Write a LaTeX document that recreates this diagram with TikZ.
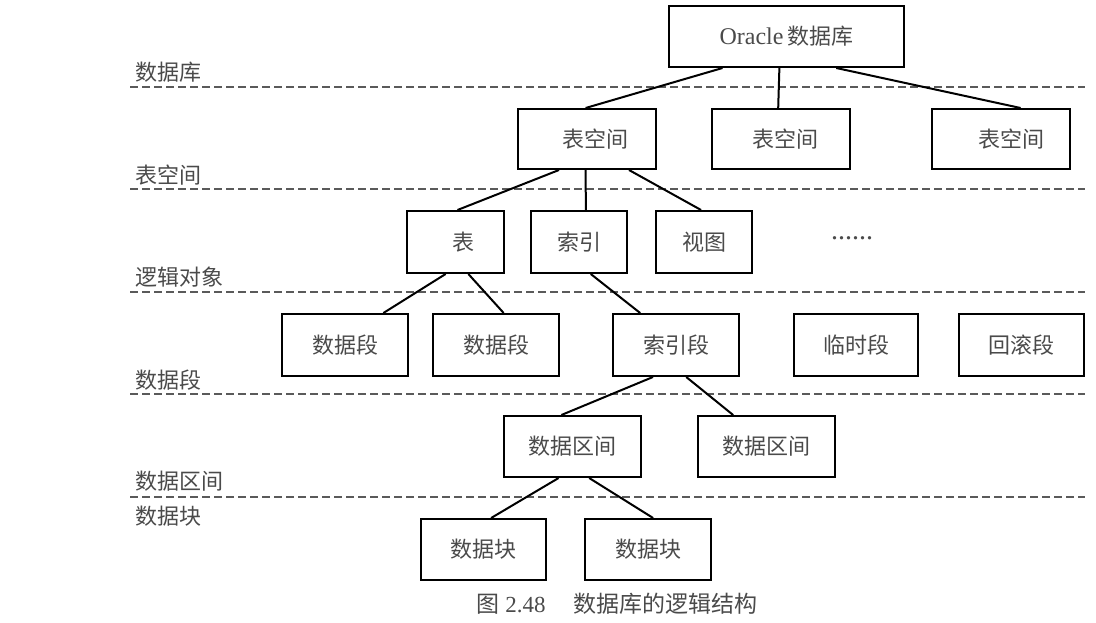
\documentclass[tikz,border=0pt]{standalone}
\usepackage{fontspec}
\setmainfont{Liberation Serif}
\newfontfamily\cjk{Noto Sans CJK SC}
\usetikzlibrary{calc}
\definecolor{txt}{HTML}{4A4A4A}
\definecolor{dashc}{HTML}{5A5A5A}
\tikzset{
  box/.style={draw=black, line width=2pt, anchor=north west, inner sep=0pt,
    font=\fontsize{22}{26}\selectfont\cjk, text=txt},
  conn/.style={line width=2pt, black},
  layer/.style={dashc, line width=2.4pt, dash pattern=on 8pt off 4pt},
  lbl/.style={anchor=west, inner sep=0pt, font=\fontsize{22}{26}\selectfont\cjk, text=txt},
}
\begin{document}
\begin{tikzpicture}[x=1pt,y=-1pt]
\useasboundingbox (0,0) rectangle (1096,622);
% layer separators
\coordinate (l1a) at (130,87);  \coordinate (l1b) at (1085,87);
\coordinate (l2a) at (130,189); \coordinate (l2b) at (1085,189);
\coordinate (l3a) at (130,292); \coordinate (l3b) at (1085,292);
\coordinate (l4a) at (130,394); \coordinate (l4b) at (1085,394);
\coordinate (l5a) at (130,497); \coordinate (l5b) at (1085,497);
\draw[layer] (l1a) -- (l1b);
\draw[layer] (l2a) -- (l2b);
\draw[layer] (l3a) -- (l3b);
\draw[layer] (l4a) -- (l4b);
\draw[layer] (l5a) -- (l5b);
% layer labels
\node[lbl] (n1) at (135,72) {数据库};
\node[lbl] (n2) at (135,175) {表空间};
\node[lbl] (n3) at (135,277) {逻辑对象};
\node[lbl] (n4) at (135,380) {数据段};
\node[lbl] (n5) at (135,481) {数据区间};
\node[lbl] (n6) at (135,516) {数据块};
% boxes
\node[box, minimum width=235pt, minimum height=61pt] (db) at (668,5) {\fontsize{24}{26}\selectfont\rmfamily Oracle\,\fontsize{22}{26}\selectfont\cjk 数据库};
\node[box, minimum width=138pt, minimum height=60pt] (ts1) at (517,108) {\hspace*{16pt}表空间};
\node[box, minimum width=138pt, minimum height=60pt] (ts2) at (711,108) {\hspace*{8pt}表空间};
\node[box, minimum width=138pt, minimum height=60pt] (ts3) at (931,108) {\hspace*{20pt}表空间};
\node[box, minimum width=97pt, minimum height=62pt] (tb) at (406,210) {\hspace*{16pt}表};
\node[box, minimum width=96pt, minimum height=62pt] (ix) at (530,210) {索引};
\node[box, minimum width=96pt, minimum height=62pt] (vw) at (655,210) {视图};
\node[anchor=center, inner sep=0pt, font=\fontsize{28}{30}\selectfont, text=txt] (dots) at (852,238) {......};
\node[box, minimum width=126pt, minimum height=62pt] (sg1) at (281,313) {数据段};
\node[box, minimum width=126pt, minimum height=62pt] (sg2) at (432,313) {数据段};
\node[box, minimum width=126pt, minimum height=62pt] (isg) at (612,313) {索引段};
\node[box, minimum width=124pt, minimum height=62pt] (tsg) at (793,313) {临时段};
\node[box, minimum width=125pt, minimum height=62pt] (rsg) at (958,313) {回滚段};
\node[box, minimum width=137pt, minimum height=61pt] (ex1) at (503,415) {数据区间};
\node[box, minimum width=137pt, minimum height=61pt] (ex2) at (697,415) {数据区间};
\node[box, minimum width=125pt, minimum height=61pt] (bk1) at (420,518) {数据块};
\node[box, minimum width=126pt, minimum height=61pt] (bk2) at (584,518) {数据块};
\node[anchor=center, inner sep=0pt, text=txt, font=\fontsize{23}{25}\selectfont] (cap) at (617,604) {{\cjk 图}~2.48\hspace{28pt}{\cjk 数据库的逻辑结构}};
% connectors
\draw[conn] ($(db.south west)!0.23!(db.south east)$) -- ($(ts1.north west)!0.49!(ts1.north east)$);
\draw[conn] ($(db.south west)!0.47!(db.south east)$) -- ($(ts2.north west)!0.48!(ts2.north east)$);
\draw[conn] ($(db.south west)!0.71!(db.south east)$) -- ($(ts3.north west)!0.64!(ts3.north east)$);
\draw[conn] ($(ts1.south west)!0.30!(ts1.south east)$) -- ($(tb.north west)!0.52!(tb.north east)$);
\draw[conn] ($(ts1.south west)!0.49!(ts1.south east)$) -- ($(ix.north west)!0.57!(ix.north east)$);
\draw[conn] ($(ts1.south west)!0.80!(ts1.south east)$) -- ($(vw.north west)!0.47!(vw.north east)$);
\draw[conn] ($(tb.south west)!0.40!(tb.south east)$) -- ($(sg1.north west)!0.80!(sg1.north east)$);
\draw[conn] ($(tb.south west)!0.63!(tb.south east)$) -- ($(sg2.north west)!0.56!(sg2.north east)$);
\draw[conn] ($(ix.south west)!0.62!(ix.south east)$) -- ($(isg.north west)!0.22!(isg.north east)$);
\draw[conn] ($(isg.south west)!0.32!(isg.south east)$) -- ($(ex1.north west)!0.42!(ex1.north east)$);
\draw[conn] ($(isg.south west)!0.58!(isg.south east)$) -- ($(ex2.north west)!0.26!(ex2.north east)$);
\draw[conn] ($(ex1.south west)!0.40!(ex1.south east)$) -- ($(bk1.north west)!0.56!(bk1.north east)$);
\draw[conn] ($(ex1.south west)!0.62!(ex1.south east)$) -- ($(bk2.north west)!0.54!(bk2.north east)$);
\end{tikzpicture}
\end{document}
